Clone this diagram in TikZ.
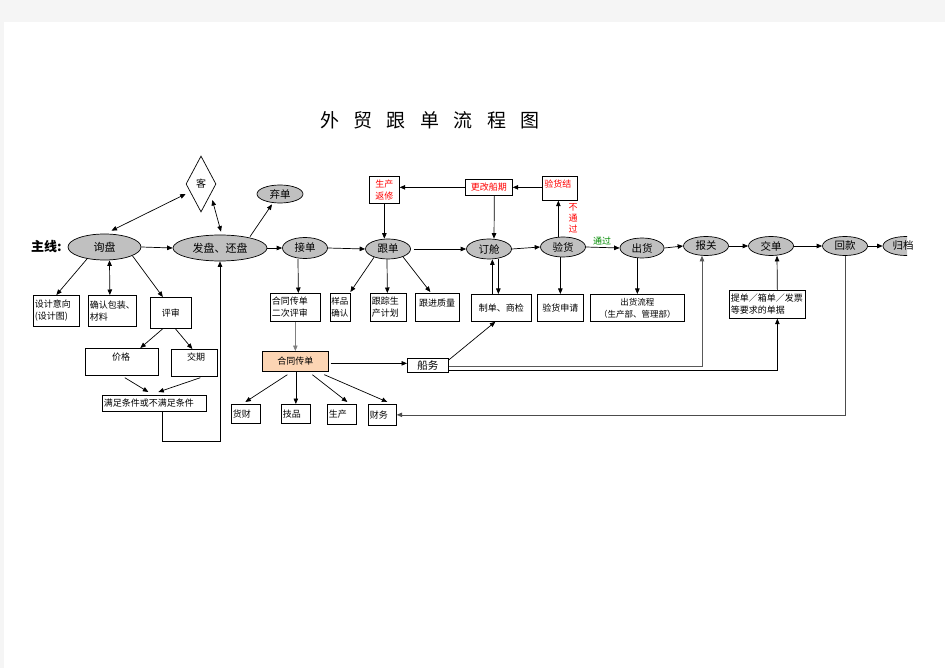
\documentclass[tikz,border=0pt]{standalone}
\usepackage{fontspec}
\setmainfont{Noto Sans CJK SC}
\usetikzlibrary{shapes.geometric,arrows.meta,calc}
\definecolor{ellgray}{RGB}{192,192,192}
\definecolor{peach}{RGB}{252,213,180}
\definecolor{bggray}{RGB}{245,245,245}
\definecolor{okgreen}{RGB}{0,140,0}
\begin{document}
\begin{tikzpicture}[x=1pt,y=-1pt,
  line width=0.7pt,
  arr/.style={-{Triangle[length=5.5pt,width=4.5pt]}},
  darr/.style={{Triangle[length=5.5pt,width=4.5pt]}-{Triangle[length=5.5pt,width=4.5pt]}},
  ell/.style={ellipse,draw,fill=ellgray,inner sep=0pt,font=\fontsize{10.5}{12}\selectfont},
  bx/.style={draw,rectangle,anchor=north west,inner sep=1.5pt,font=\fontsize{9}{12}\selectfont},
  lbox/.style={bx,align=left},
  cbox/.style={bx,align=center},
  txt/.style={inner sep=0pt,font=\fontsize{9}{12}\selectfont},
]
\useasboundingbox (0,0) rectangle (945,668);
\fill[bggray] (0,0) rectangle (945,668);
\fill[white] (4,22) rectangle (945,668);

% title and label
\node[font=\fontsize{19}{20}\selectfont] (title) at (430,120) {外\hspace{14.5pt}贸\hspace{14.5pt}跟\hspace{14.5pt}单\hspace{14.5pt}流\hspace{14.5pt}程\hspace{14.5pt}图};
\node[font=\bfseries\fontsize{13}{14}\selectfont,inner sep=0pt] (zx) at (46.5,247) {主线:};

% diamond
\node[diamond,draw,inner sep=0pt,minimum width=30pt,minimum height=56pt,font=\fontsize{10}{12}\selectfont] (ke) at (201,184) {客};

% ellipses
\node[ell,minimum width=73pt,minimum height=26pt,font=\fontsize{11}{12}\selectfont] (xp) at (104.5,247) {询盘};
\node[ell,minimum width=94pt,minimum height=26pt,font=\fontsize{11}{12}\selectfont] (fp) at (220,248) {发盘、还盘};
\node[ell,minimum width=46pt,minimum height=18pt] (qd) at (280,194) {弃单};
\node[ell,minimum width=45pt,minimum height=21pt] (jd) at (305,248) {接单};
\node[ell,minimum width=45pt,minimum height=20pt] (gd) at (388,249) {跟单};
\node[ell,minimum width=45pt,minimum height=20pt] (dc) at (489,249) {订舱};
\node[ell,minimum width=45pt,minimum height=20pt] (yh) at (563,247) {验货};
\node[ell,minimum width=44pt,minimum height=20pt] (ch) at (642,248) {出货};
\node[ell,minimum width=45pt,minimum height=19pt] (bg) at (706,246) {报关};
\node[ell,minimum width=45pt,minimum height=19pt] (jdan) at (771,246) {交单};
\node[ell,minimum width=45pt,minimum height=19pt] (hk) at (845,246) {回款};
\begin{scope}
\clip (875,230) rectangle (907,265);
\node[ell,minimum width=46pt,minimum height=19pt] (gdang) at (906,246) {};
\end{scope}
\node[txt,font=\fontsize{10.5}{12}\selectfont] (gdt) at (903,246) {归档};

% boxes
\node[lbox,text width=43pt,minimum height=31pt] (sj) at (33,295) {设计意向\\(设计图)};
\node[lbox,text width=45pt,minimum height=31pt] (qr) at (88,295) {确认包装、\\材料};
\node[cbox,minimum width=41pt,minimum height=31pt] (ps) at (150,297) {评审};
\node[bx,minimum width=73pt,minimum height=27pt] (jg) at (85,348) {};
\node[txt] (jgt) at (121,357) {价格};
\node[bx,minimum width=46pt,minimum height=27pt] (jq) at (171,349) {};
\node[txt] (jqt) at (196,357) {交期};
\node[lbox,text width=101pt,minimum height=16pt] (mz) at (102,395) {满足条件或不满足条件};
\node[lbox,text width=47pt,minimum height=28pt] (ht2) at (270,293) {合同传单\\二次评审};
\node[lbox,text width=18pt,inner sep=1pt,minimum height=28pt,font=\fontsize{8.5}{12}\selectfont] (yp) at (330,293) {样品\\确认};
\node[lbox,text width=33pt,minimum height=28pt] (gz) at (370,293) {跟踪生\\产计划};
\node[bx,minimum width=44pt,minimum height=28pt] (gj) at (415,293) {};
\node[txt] (gjt) at (437,303) {跟进质量};
\node[cbox,fill=peach,minimum width=66pt,minimum height=20pt] (ht) at (262,351) {合同传单};
\node[cbox,minimum width=41pt,minimum height=14pt,font=\fontsize{10.5}{12}\selectfont] (cw) at (407,358) {船务};
\node[lbox,text width=26pt,minimum height=19pt] (hc) at (231,404) {货财};
\node[lbox,text width=26pt,minimum height=19pt] (jp) at (281,404) {技品};
\node[lbox,text width=26pt,minimum height=20pt] (sc) at (327,404) {生产};
\node[lbox,text width=25pt,minimum height=21pt] (cwu) at (368,404) {财务};
\node[cbox,text=red,minimum width=30pt,minimum height=27pt] (sfx) at (369,176) {生产\\返修};
\node[cbox,text=red,minimum width=47pt,minimum height=16pt] (ggcq) at (465,179) {更改船期};
\node[bx,minimum width=35pt,minimum height=24pt] (yhj) at (542,176) {};
\node[txt,text=red,anchor=west] (yhjt) at (544,184) {验货结};
\node[cbox,minimum width=60pt,minimum height=27pt] (zd) at (471,294) {制单、商检};
\node[cbox,minimum width=46pt,minimum height=27pt] (yhsq) at (537,294) {验货申请};
\node[cbox,minimum width=94pt,minimum height=27pt,font=\fontsize{8.5}{12}\selectfont] (chlc) at (590,294) {出货流程\\（生产部、管理部）};
\node[lbox,text width=73pt,minimum height=28pt] (td) at (729,290) {提单／箱单／发票\\等要求的单据};

% labels
\node[txt,text=red,align=center,font=\fontsize{9}{11}\selectfont] (btg) at (573,218) {不\\通\\过};
\node[txt,text=okgreen] (tg) at (602,241) {通过};

% connectors: main line
\draw[arr] (xp.east) -- (fp.west);
\draw[arr] (fp.east) -- (jd.west);
\draw[arr] (jd.east) -- (gd.west);
\draw[arr] ($(gd.east)+(3,0)$) -- (dc.west);
\draw[arr] (dc.east) -- (yh.west);
\draw[arr] (yh.east) -- (ch.west);
\draw[arr] (ch.east) -- (bg.west);
\draw[arr] (bg.east) -- (jdan.west);
\draw[arr] (jdan.east) -- (hk.west);
\draw[arr] (hk.east) -- (gdang.west);

% customer / offer
\draw[darr] ($(xp.north)+(7,-3)$) -- ($(ke.west)+(0,10)$);
\draw[darr] ($(ke.east)+(-4,16)$) -- ($(fp.north)+(1,-3)$);
\draw[arr] ($(fp.north)+(30,2)$) -- ($(qd.south)+(-8,1)$);

% inquiry branches
\draw[arr] ($(xp.south)+(-17,-2)$) -- (sj.north);
\draw[darr] ($(xp.south)+(5,0)$) -- ($(qr.north)+(-2.5,0)$);
\draw[arr] ($(xp.south)+(28,-4.5)$) -- ($(ps.north)+(-8,0)$);
\draw[arr] ($(ps.south)+(-8,0)$) -- ($(jg.north)+(18.5,0)$);
\draw[arr] ($(ps.south)+(4.5,0)$) -- ($(jq.north)+(-2,0)$);
\draw[arr] ($(jg.south)+(3,2)$) -- ($(mz.north)+(-6,-3)$);
\draw[arr] ($(jq.south)+(6,1)$) -- ($(mz.north)+(4,-3)$);
\draw[arr] ($(mz.south)+(8,0)$) -- ++(0,30) -| (fp.south);

% order / contract
\draw[arr] ($(jd.south)+(-7,0)$) -- ($(ht2.north)+(3,0)$);
\draw[arr,draw=gray] (ht2.south) -- (ht.north);
\draw[arr] ($(ht.south)+(-8,3)$) -- ($(hc.north)+(-0.5,-2)$);
\draw[arr] (ht.south -| jp.north) -- (jp.north);
\draw[arr] ($(ht.south)+(17,3)$) -- ($(sc.north)+(5.5,-2)$);
\draw[arr] ($(ht.south)+(29,3)$) -- ($(cwu.north)+(5,-2)$);
\draw[arr] ($(ht.east)+(2,2)$) -- ($(cw.west)+(0,-2)$);
\draw[arr] ($(cw.north east)+(0,2)$) -- ($(zd.south)+(-6,0)$);
\draw[arr,draw=gray!70!black] ($(cw.east)+(0,1)$) -| ($(bg.south)+(-4,0)$);
\draw[arr] ($(cw.south east)+(0,-2)$) -| ($(td.south)+(10,0)$);
\draw[arr] ($(td.north)+(10,0)$) -- ($(jdan.south)+(6,0)$);
\draw[arr,draw=gray!60!black] (hk.south) |- (cwu.east);

% follow-up
\draw[arr] ($(gd.south)+(-14,-2)$) -- ($(yp.north)+(10,-1)$);
\draw[arr] ($(gd.south)+(-1,0)$) -- ($(gz.north)+(-1,0)$);
\draw[arr] ($(gd.south)+(15,-2.5)$) -- ($(gj.north)+(-7,-1)$);
\draw[arr] (sfx.south) -- (sfx.south |- gd.north);
\draw[arr] (ggcq.west) -- (ggcq.west -| sfx.east);
\draw[arr] ($(ggcq.south)+(5.5,0)$) -- ($(dc.north)+(5,0)$);
\draw[arr] ($(yhj.west)+(0,-1)$) -- (ggcq.east);
\path ($(yhj.south)+(-1.5,0)$) coordinate (yx);
\draw[arr] (yh.north -| yx) -- (yx);
\draw[arr] (yh.south -| yhsq.north) -- (yhsq.north);
\draw[arr] (ch.south -| chlc.north) -- (chlc.north);
\path ($(zd.north)+(-9,0)$) coordinate (zu);
\draw[arr] (zu) -- (zu |- dc.south);
\path ($(zd.north)+(-3,0)$) coordinate (zdn);
\draw[arr] (zdn |- dc.south) -- (zdn);
\end{tikzpicture}
\end{document}
